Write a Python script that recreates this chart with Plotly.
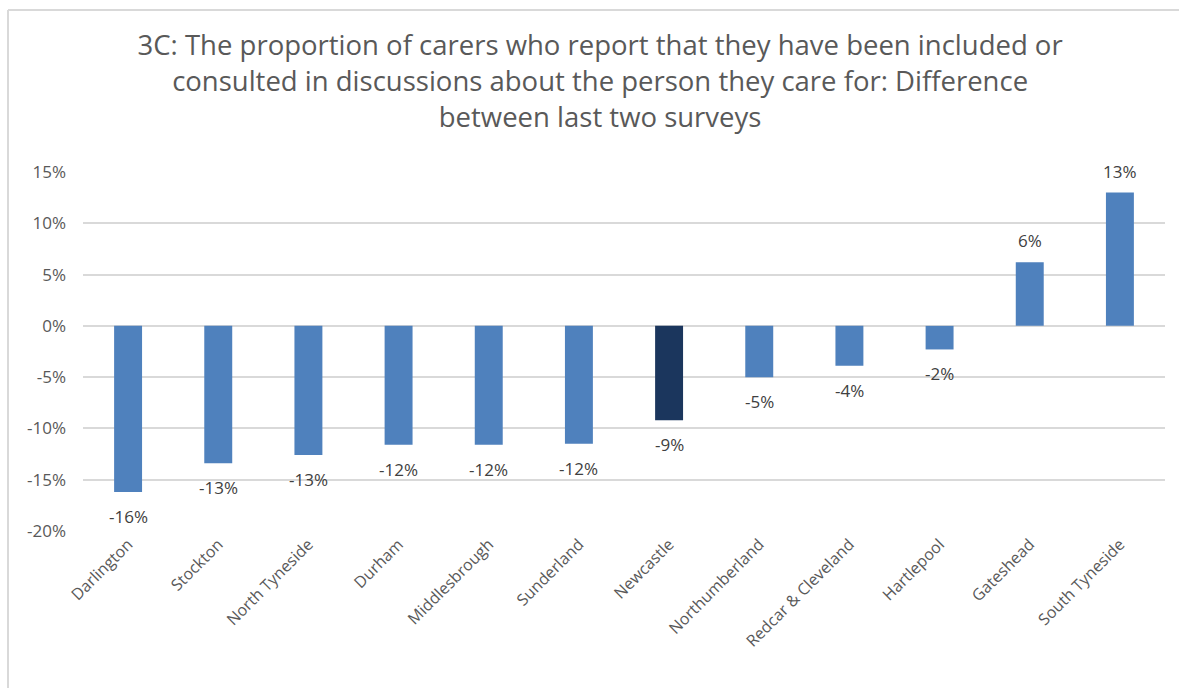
import plotly.graph_objects as go

# Local authority areas, in chart order
areas = ["Darlington", "Stockton", "North Tyneside", "Durham", "Middlesbrough",
         "Sunderland", "Newcastle", "Northumberland", "Redcar & Cleveland",
         "Hartlepool", "Gateshead", "South Tyneside"]

# Change in percentage points between the last two surveys
diff = [-16.2, -13.4, -12.6, -11.6, -11.6, -11.5, -9.2, -5.0, -3.9, -2.3, 6.2, 13.0]

highlight = "Newcastle"

y_ticks = [15, 10, 5, 0, -5, -10, -15, -20]

title_text = ("3C: The proportion of carers who report that they have been included or<br>"
              "consulted in discussions about the person they care for: Difference<br>"
              "between last two surveys")

FONT = "'Open Sans', 'Segoe UI', sans-serif"
GREY = "#595959"

colors = ["#1b365d" if a == highlight else "#4f81bd" for a in areas]

fig = go.Figure(go.Bar(
    x=areas,
    y=diff,
    marker=dict(color=colors, line=dict(width=0)),
    width=0.31,
    hoverinfo="x+y",
))

# value labels just beyond the end of each bar
annotations = []
for a, v in zip(areas, diff):
    neg = v < 0
    annotations.append(dict(
        x=a, y=v, xref="x", yref="y",
        text=f"{round(v):.0f}%",
        showarrow=False,
        yanchor="top" if neg else "bottom",
        yshift=-11 if neg else 8,
        font=dict(family=FONT, size=17, color="#404040"),
    ))

fig.update_layout(
    width=1179,
    height=688,
    margin=dict(l=83, r=14, t=172, b=157),
    paper_bgcolor="white",
    plot_bgcolor="white",
    showlegend=False,
    font=dict(family=FONT, color=GREY),
    title=dict(
        text=title_text,
        x=0.509, xanchor="center",
        y=0.92, yanchor="top",
        font=dict(family=FONT, size=27.5, color=GREY),
    ),
    xaxis=dict(
        tickangle=-45,
        tickfont=dict(family=FONT, size=16, color=GREY),
        showgrid=False,
        showline=False,
        ticks="",
    ),
    yaxis=dict(
        range=[-20, 15],
        tickvals=y_ticks,
        ticktext=[f"{v}%" for v in y_ticks],
        tickfont=dict(family=FONT, size=17, color=GREY),
        gridcolor="#d9d9d9",
        gridwidth=1.5,
        zeroline=True,
        zerolinecolor="#d9d9d9",
        zerolinewidth=1.5,
        showline=False,
        ticks="",
        ticklabelstandoff=16,
    ),
    annotations=annotations,
    shapes=[
        # chart frame (left and top edges)
        dict(type="line", xref="paper", yref="paper",
             x0=-0.0693, x1=-0.0693, y0=-0.5, y1=1.4513,
             line=dict(color="#d9d9d9", width=2)),
        dict(type="line", xref="paper", yref="paper",
             x0=-0.0693, x1=1.05, y0=1.4513, y1=1.4513,
             line=dict(color="#d9d9d9", width=2)),
    ],
)

fig.write_html("out.html")
